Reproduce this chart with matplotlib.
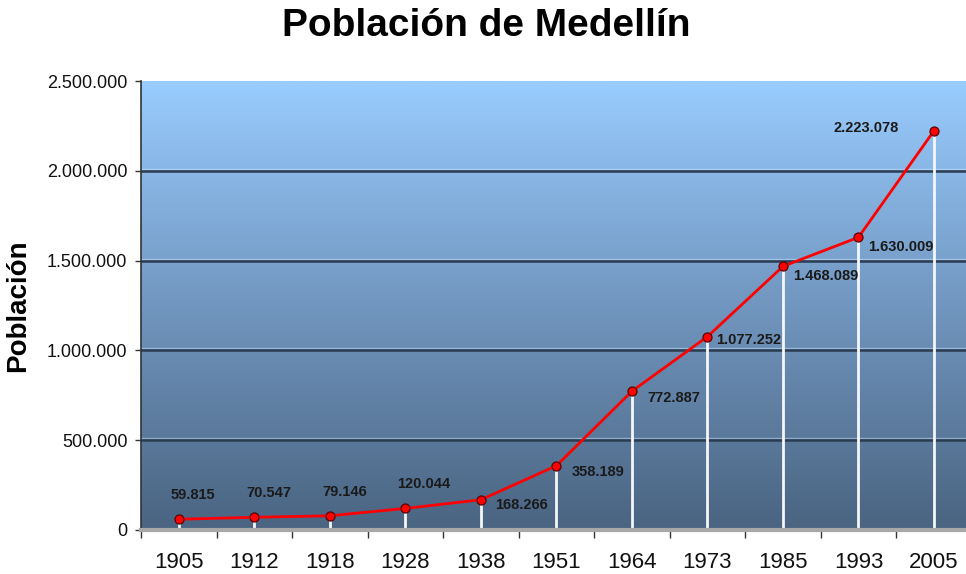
import numpy as np
import matplotlib
matplotlib.use('Agg')
import matplotlib.pyplot as plt
from matplotlib.colors import LinearSegmentedColormap
from matplotlib.ticker import FuncFormatter, FixedLocator
from matplotlib.transforms import offset_copy

plt.rcParams['font.family'] = ['Liberation Sans', 'DejaVu Sans']

years = ['1905', '1912', '1918', '1928', '1938', '1951', '1964', '1973', '1985', '1993', '2005']
population = [59815, 70547, 79146, 120044, 168266, 358189, 772887, 1077252, 1468089, 1630009, 2223078]
labels = ['59.815', '70.547', '79.146', '120.044', '168.266', '358.189', '772.887',
          '1.077.252', '1.468.089', '1.630.009', '2.223.078']

# label placement (pixels relative to the point)
label_offsets = [(-8, 24), (-8, 24), (-8, 24), (-8, 24), (14, -5), (15, -6), (15, -7),
                 (9, -3), (10, -10), (10, -10), (-35, 3)]
label_ha = ['left'] * 10 + ['right']


def thousands(v, pos):
    return '{:,.0f}'.format(v).replace(',', '.')


fig = plt.figure(figsize=(9.66, 5.74), dpi=100)
ax = fig.add_axes([0.1462, 0.0767, 0.8597, 0.782])

x = np.arange(len(years))
ymax = 2500000

# gradient background
cmap = LinearSegmentedColormap.from_list('bg', ['#4a6481', '#7196bf', '#99ccff'])
grad = np.linspace(0, 1, 256).reshape(-1, 1)
ax.imshow(grad, cmap=cmap, origin='lower', aspect='auto',
          extent=[-0.5, len(years) - 0.5, 0, ymax], zorder=0)

# grid lines with a faint highlight above them
hl = offset_copy(ax.transData, fig=fig, y=2, units='dots')
for g in [500000, 1000000, 1500000, 2000000]:
    ax.plot([-0.5, len(years) - 0.5], [g, g], color='#c8e4ff', lw=1, alpha=0.5,
            transform=hl, zorder=1)
    ax.axhline(g, color='#2b3c50', lw=1.8, zorder=1)

ax.vlines(x, 0, population, colors='#f4f6f8', lw=2, zorder=2)
ax.plot(x, population, color='#ff0000', lw=2, zorder=3)
ax.plot(x, population, 'o', ms=6.5, mfc='#ff0000', mec='#5a0000', mew=0.9, zorder=4)

for i in range(len(years)):
    ax.annotate(labels[i], (x[i], population[i]), xytext=label_offsets[i],
                textcoords='offset pixels', ha=label_ha[i], va='center',
                fontsize=10.5, fontweight='bold', color='#1a1a1a', zorder=5)

ax.set_xlim(-0.5, len(years) - 0.5)
ax.set_ylim(0, ymax)
ax.set_xticks(x)
ax.set_xticklabels(years)
ax.xaxis.set_minor_locator(FixedLocator(np.arange(-0.5, len(years), 1.0)))
ax.tick_params(axis='x', which='major', length=0, pad=16, labelsize=16, colors='#111111')
ax.tick_params(axis='x', which='minor', length=6, width=1, color='#333333')
ax.set_yticks(np.arange(0, ymax + 1, 500000))
ax.yaxis.set_major_formatter(FuncFormatter(thousands))
ax.tick_params(axis='y', length=4, width=1, pad=6, labelsize=13, color='#333333', labelcolor='#111111')

for s in ['top', 'right']:
    ax.spines[s].set_visible(False)
ax.spines['bottom'].set_color('#a8a8a8')
ax.spines['bottom'].set_linewidth(3)
ax.spines['left'].set_color('#333333')
ax.spines['left'].set_linewidth(1.2)

ax.set_ylabel('Población', fontsize=20, fontweight='bold', labelpad=10)
ax.yaxis.set_label_coords(-0.133, 0.5)
fig.text(0.503, 0.955, 'Población de Medellín', ha='center', va='center',
         fontsize=28, fontweight='bold')

fig.savefig('out.png', dpi=100)
